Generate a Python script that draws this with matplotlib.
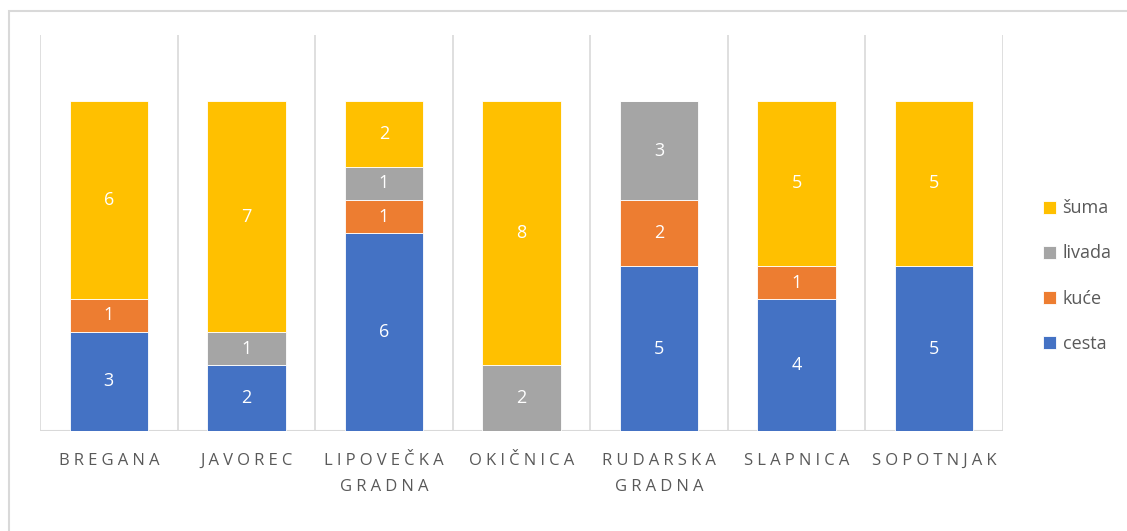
import numpy as np
import matplotlib
matplotlib.use("Agg")
import matplotlib.pyplot as plt
from matplotlib.patches import Rectangle

plt.rcParams['font.family'] = ['Open Sans', 'DejaVu Sans']

categories = ["BREGANA", "JAVOREC", "LIPOVEČKA\nGRADNA", "OKIČNICA",
              "RUDARSKA\nGRADNA", "SLAPNICA", "SOPOTNJAK"]
cesta = [3, 2, 6, 0, 5, 4, 5]
kuce = [1, 0, 1, 0, 2, 1, 0]
livada = [0, 1, 1, 2, 3, 0, 0]
suma = [6, 7, 2, 8, 0, 5, 5]

series = [("cesta", cesta, "#4472C4"),
          ("kuće", kuce, "#ED7D31"),
          ("livada", livada, "#A5A5A5"),
          ("šuma", suma, "#FFC000")]

grid_col = "#D9D9D9"
text_col = "#595959"

fig = plt.figure(figsize=(11.27, 5.31), dpi=100)
ax = fig.add_axes([40 / 1127, 1 - 431 / 531, (1003 - 40) / 1127, (431 - 35) / 531])

x = np.arange(len(categories))
bottom = np.zeros(len(categories))
handles = []
for name, vals, col in series:
    vals = np.array(vals, dtype=float)
    b = ax.bar(x, vals, 0.57, bottom=bottom, color=col, edgecolor="white",
               linewidth=0.6, label=name, zorder=3)
    handles.append(b)
    for xi, v, bt in zip(x, vals, bottom):
        if v > 0:
            ax.text(xi, bt + v / 2, f"{int(v)}", ha="center", va="center",
                    color="white", fontsize=13, zorder=4)
    bottom += vals

ax.set_xlim(-0.5, len(categories) - 0.5)
ax.set_ylim(0, 12)
for b in np.arange(-0.5, len(categories), 1.0):
    ax.axvline(b, color=grid_col, linewidth=1.2, zorder=1)

for s in ax.spines.values():
    s.set_visible(False)
ax.axhline(0, color=grid_col, linewidth=1.5, zorder=2)
ax.set_yticks([])

# letter-spaced category labels
spaced = ["\n".join("\u2005".join(line) for line in c.split("\n")) for c in categories]
ax.set_xticks(x)
ax.set_xticklabels(spaced, fontsize=12, color=text_col, linespacing=1.78)
ax.tick_params(axis="x", length=0, pad=16)

leg = fig.legend(handles[::-1], [s[0] for s in series][::-1],
                 loc="center left", bbox_to_anchor=(1027 / 1127, 1 - 276 / 531),
                 frameon=False, fontsize=13, labelcolor=text_col,
                 handlelength=0.72, handleheight=0.72, handletextpad=0.35,
                 labelspacing=1.5)

fig.patches.append(Rectangle((9 / 1127, -0.05), 1.2, 1 - 11 / 531 + 0.05,
                             transform=fig.transFigure, fill=False,
                             edgecolor=grid_col, linewidth=1.5, zorder=0))

fig.savefig("out.png", dpi=100)
